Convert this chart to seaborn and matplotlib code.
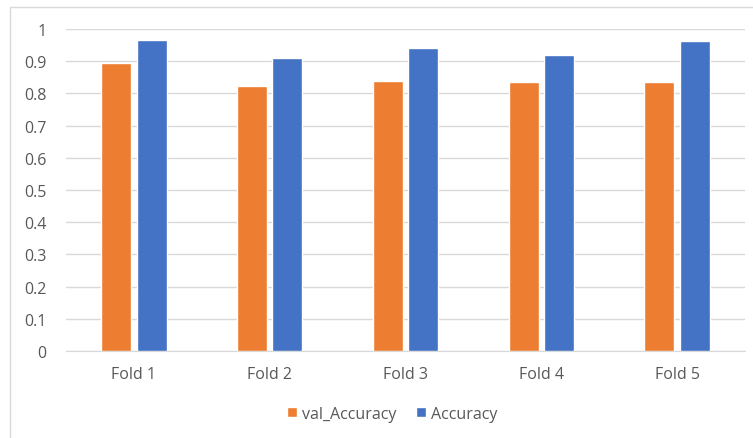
import pandas as pd
import matplotlib.pyplot as plt
import seaborn as sns
from matplotlib.patches import Rectangle

# Data
folds = ["Fold 1", "Fold 2", "Fold 3", "Fold 4", "Fold 5"]
val_accuracy = [0.893, 0.824, 0.839, 0.834, 0.834]
accuracy = [0.966, 0.911, 0.942, 0.919, 0.963]
series = ["val_Accuracy", "Accuracy"]
colors = ["#ED7D31", "#4472C4"]

df = pd.DataFrame({
    "Fold": folds * 2,
    "Metric": [series[0]] * len(folds) + [series[1]] * len(folds),
    "Value": val_accuracy + accuracy,
})

sns.set_style("white")
plt.rcParams['font.family'] = ['Open Sans', 'DejaVu Sans']
text_color = "#595959"
fs = 11.5

fig = plt.figure(figsize=(7.53, 4.39), dpi=100)
ax = fig.add_axes([66 / 753, (439 - 352) / 439, 679 / 753, 322 / 439])

sns.barplot(data=df, x="Fold", y="Value", hue="Metric", palette=colors,
            saturation=1, width=0.52, gap=0.15, ax=ax, zorder=3, legend=True)

ax.set_ylim(0, 1)
ax.set_yticks([i / 10 for i in range(11)])
ax.set_yticklabels(["0"] + [f"{i / 10:.1f}" for i in range(1, 10)] + ["1"])
ax.yaxis.grid(True, color="#D9D9D9", linewidth=1, zorder=0)
ax.set_xlabel("")
ax.set_ylabel("")
for side in ["top", "right", "left"]:
    ax.spines[side].set_visible(False)
ax.spines["bottom"].set_color("#D9D9D9")
ax.tick_params(axis="both", length=0, labelsize=fs, colors=text_color)
ax.tick_params(axis="y", pad=14)
ax.tick_params(axis="x", pad=11)

leg = ax.legend(loc="upper center", bbox_to_anchor=(0.48, -0.125), ncol=2,
                frameon=False, fontsize=fs, handlelength=0.65, handleheight=0.65,
                columnspacing=1.2, handletextpad=0.3)
for t in leg.get_texts():
    t.set_color(text_color)

# outer chart border
fig.patches.append(Rectangle((10 / 753, -0.05), 1.1, (439 - 8) / 439 + 0.05,
                             transform=fig.transFigure, fill=False,
                             edgecolor="#D9D9D9", linewidth=1))

plt.savefig("out.png", dpi=100)
